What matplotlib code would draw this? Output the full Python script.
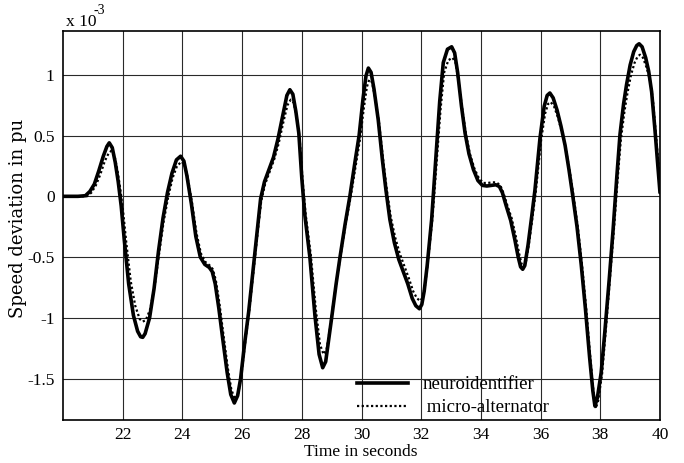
import matplotlib
matplotlib.use("Agg")
import matplotlib.pyplot as plt
from matplotlib.lines import Line2D

# values in units of 1e-3 pu
t_neuro = [20.0, 20.5, 20.75, 20.9, 21.05, 21.2, 21.35, 21.47, 21.55, 21.65, 21.75, 21.85, 21.95,
           22.05, 22.2, 22.36, 22.5, 22.6, 22.67, 22.75, 22.9, 23.05, 23.2, 23.35, 23.5, 23.65,
           23.8, 23.94, 24.05, 24.15, 24.3, 24.45, 24.6, 24.75, 24.9, 25.0, 25.1, 25.22, 25.35,
           25.5, 25.62, 25.74, 25.85, 25.95, 26.08, 26.22, 26.35, 26.5, 26.62, 26.75, 26.9,
           27.05, 27.2, 27.38, 27.5, 27.6, 27.7, 27.8, 27.9, 28.0, 28.1, 28.27, 28.44, 28.58,
           28.7, 28.8, 28.9, 29.0, 29.15, 29.28, 29.45, 29.61, 29.78, 29.92, 30.05, 30.15, 30.23,
           30.32, 30.42, 30.56, 30.7, 30.82, 30.95, 31.1, 31.25, 31.4, 31.55, 31.7, 31.82, 31.94,
           32.02, 32.1, 32.2, 32.35, 32.5, 32.62, 32.74, 32.88, 33.02, 33.12, 33.22, 33.35, 33.47,
           33.6, 33.75, 33.9, 34.05, 34.2, 34.35, 34.5, 34.62, 34.72, 34.85, 35.0, 35.14, 35.25,
           35.33, 35.4, 35.47, 35.58, 35.7, 35.81, 35.98, 36.12, 36.22, 36.31, 36.42, 36.55,
           36.68, 36.82, 36.95, 37.08, 37.22, 37.36, 37.5, 37.64, 37.75, 37.82, 37.9, 38.03,
           38.15, 38.3, 38.43, 38.55, 38.66, 38.78, 38.88, 39.0, 39.12, 39.22, 39.3, 39.4,
           39.52, 39.62, 39.72, 39.83, 39.92, 40.0]
y_neuro = [0.0, 0.0, 0.005, 0.04, 0.10, 0.21, 0.33, 0.41, 0.44, 0.40, 0.28, 0.12, -0.08,
           -0.35, -0.72, -0.98, -1.11, -1.155, -1.16, -1.13, -1.00, -0.76, -0.45, -0.18, 0.03, 0.19,
           0.30, 0.33, 0.29, 0.17, -0.06, -0.33, -0.50, -0.56, -0.585, -0.62, -0.72, -0.92, -1.17,
           -1.45, -1.63, -1.70, -1.64, -1.50, -1.22, -0.95, -0.65, -0.30, -0.02, 0.12, 0.22,
           0.32, 0.47, 0.685, 0.83, 0.877, 0.84, 0.70, 0.52, 0.15, -0.15, -0.50, -0.98, -1.30,
           -1.41, -1.36, -1.18, -1.00, -0.72, -0.50, -0.23, 0.0, 0.28, 0.50, 0.80, 0.99, 1.055,
           1.02, 0.88, 0.63, 0.30, 0.05, -0.19, -0.38, -0.52, -0.62, -0.72, -0.84, -0.90, -0.925,
           -0.89, -0.78, -0.57, -0.19, 0.35, 0.78, 1.10, 1.21, 1.23, 1.18, 1.02, 0.74, 0.52,
           0.35, 0.22, 0.13, 0.09, 0.085, 0.09, 0.095, 0.08, 0.03, -0.08, -0.20, -0.36, -0.50,
           -0.58, -0.60, -0.57, -0.40, -0.17, 0.05, 0.48, 0.74, 0.83, 0.85, 0.81, 0.71,
           0.58, 0.42, 0.22, 0.0, -0.25, -0.56, -0.92, -1.32, -1.60, -1.725, -1.66, -1.45,
           -1.12, -0.68, -0.27, 0.15, 0.51, 0.76, 0.92, 1.08, 1.19, 1.24, 1.255, 1.23,
           1.14, 1.03, 0.86, 0.55, 0.28, 0.03]

t_micro = [20.0, 20.5, 20.8, 20.95, 21.1, 21.25, 21.4, 21.52, 21.62, 21.72, 21.82, 21.92, 22.02,
           22.12, 22.27, 22.42, 22.57, 22.67, 22.77, 22.92, 23.07, 23.22, 23.37, 23.52, 23.67,
           23.82, 23.97, 24.07, 24.17, 24.32, 24.47, 24.62, 24.77, 24.92, 25.02, 25.12, 25.24,
           25.37, 25.52, 25.64, 25.76, 25.87, 25.97, 26.1, 26.24, 26.37, 26.52, 26.64, 26.77,
           26.92, 27.07, 27.22, 27.4, 27.52, 27.63, 27.73, 27.83, 27.93, 28.03, 28.13, 28.3,
           28.47, 28.61, 28.73, 28.83, 28.93, 29.03, 29.18, 29.31, 29.48, 29.64, 29.81, 29.95,
           30.08, 30.18, 30.26, 30.35, 30.45, 30.59, 30.73, 30.85, 30.98, 31.13, 31.28, 31.43,
           31.58, 31.73, 31.86, 31.97, 32.05, 32.13, 32.23, 32.38, 32.53, 32.65, 32.77, 32.91,
           33.05, 33.15, 33.25, 33.38, 33.5, 33.63, 33.78, 33.93, 34.08, 34.23, 34.38, 34.52,
           34.65, 34.75, 34.88, 35.03, 35.17, 35.28, 35.36, 35.43, 35.5, 35.61, 35.73, 35.84,
           36.01, 36.15, 36.25, 36.34, 36.45, 36.58, 36.71, 36.85, 36.98, 37.11, 37.25, 37.39,
           37.53, 37.67, 37.78, 37.85, 37.93, 38.06, 38.18, 38.33, 38.46, 38.58, 38.69, 38.81,
           38.91, 39.03, 39.15, 39.25, 39.33, 39.43, 39.55, 39.66, 39.76, 39.86, 39.94, 40.0]
y_micro = [0.0, 0.0, 0.0, 0.03, 0.09, 0.18, 0.29, 0.35, 0.375, 0.34, 0.22, 0.06, -0.14,
           -0.38, -0.70, -0.90, -1.01, -1.03, -1.02, -0.93, -0.74, -0.47, -0.21, -0.01, 0.15,
           0.25, 0.285, 0.26, 0.16, -0.05, -0.30, -0.47, -0.54, -0.57, -0.60, -0.69, -0.88,
           -1.13, -1.41, -1.59, -1.67, -1.62, -1.48, -1.21, -0.94, -0.64, -0.30, -0.04, 0.10,
           0.20, 0.30, 0.43, 0.63, 0.75, 0.795, 0.77, 0.65, 0.47, 0.12, -0.15, -0.48,
           -0.93, -1.22, -1.30, -1.26, -1.11, -0.93, -0.67, -0.47, -0.21, 0.0, 0.26, 0.47,
           0.73, 0.90, 0.96, 0.94, 0.82, 0.60, 0.29, 0.05, -0.17, -0.34, -0.47, -0.57,
           -0.67, -0.78, -0.84, -0.86, -0.83, -0.73, -0.53, -0.17, 0.32, 0.72, 1.02, 1.12,
           1.14, 1.10, 0.95, 0.71, 0.51, 0.35, 0.23, 0.15, 0.11, 0.11, 0.115, 0.115,
           0.09, 0.03, -0.07, -0.18, -0.33, -0.47, -0.555, -0.575, -0.55, -0.39, -0.17, 0.04,
           0.45, 0.68, 0.76, 0.775, 0.74, 0.65, 0.53, 0.38, 0.20, -0.01, -0.26, -0.57,
           -0.93, -1.34, -1.63, -1.745, -1.68, -1.46, -1.11, -0.66, -0.26, 0.14, 0.47, 0.70,
           0.85, 1.00, 1.10, 1.15, 1.165, 1.14, 1.06, 0.96, 0.80, 0.52, 0.30, 0.12]

x_ticks = [22, 24, 26, 28, 30, 32, 34, 36, 38, 40]
y_ticks = [-1.5, -1.0, -0.5, 0.0, 0.5, 1.0]
y_tick_labels = ["-1.5", "-1", "-0.5", "0", "0.5", "1"]
series_labels = ["neuroidentifier", " micro-alternator"]

plt.rcParams['font.family'] = ['Liberation Serif', 'DejaVu Serif']

W, H = 684, 463
fig = plt.figure(figsize=(W / 100, H / 100), dpi=100)
ax = fig.add_axes([63 / W, (H - 420) / H, (660 - 63) / W, (420 - 31) / H])

DOT = (0, (1, 1.1))
ax.plot(t_neuro, y_neuro, color='black', lw=2.6, solid_joinstyle='round',
        solid_capstyle='round', zorder=3)
ax.plot(t_micro, y_micro, color='black', lw=1.6, linestyle=DOT, zorder=4)

ax.set_xlim(20, 40)
ax.set_ylim(-1.84, 1.36)
ax.set_xticks(x_ticks)
ax.set_xticklabels([str(v) for v in x_ticks])
ax.set_yticks(y_ticks)
ax.set_yticklabels(y_tick_labels)
ax.grid(True, color='#2a2a2a', lw=0.8)
ax.set_axisbelow(True)
ax.tick_params(direction='in', length=0, labelsize=12.5)
ax.tick_params(axis='y', pad=6)
ax.tick_params(axis='x', pad=5)
for s in ax.spines.values():
    s.set_linewidth(1.2)

fig.text(18 / W, 1 - 218 / H, "Speed deviation in pu", rotation=90, ha='center', va='center',
         fontsize=13, family=['DejaVu Serif'])
fig.text(361 / W, 1 - 452 / H, "Time in seconds", ha='center', va='center', fontsize=12.5)
fig.text(66 / W, 1 - 26 / H, "x 10", ha='left', va='baseline', fontsize=12.5)
fig.text(94 / W, 1 - 14 / H, "-3", ha='left', va='baseline', fontsize=10)

handles = [Line2D([], [], color='black', lw=2.6),
           Line2D([], [], color='black', lw=1.6, linestyle=DOT)]
leg = ax.legend(handles, series_labels, loc='upper left', bbox_to_anchor=(357 / W, 1 - 376 / H),
                bbox_transform=fig.transFigure, frameon=False, fontsize=13.5, handlelength=2.72,
                handletextpad=0.75, labelspacing=0.32, borderpad=0, borderaxespad=0)

fig.savefig("out.png", dpi=100)
